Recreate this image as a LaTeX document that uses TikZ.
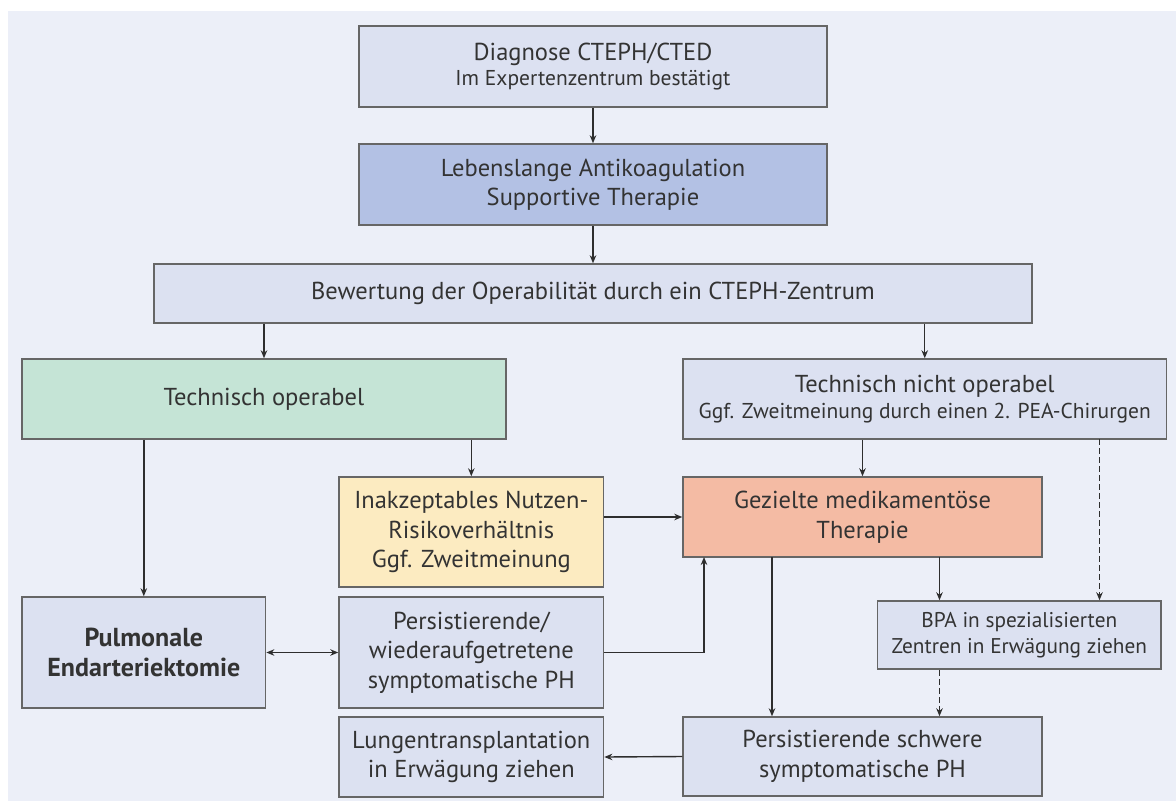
\documentclass[tikz,border=0pt]{standalone}
\usepackage{fontspec}
\setmainfont{PT Sans}
\usetikzlibrary{arrows.meta,calc}
\definecolor{bgc}{HTML}{ECEFF8}
\definecolor{boxc}{HTML}{DCE1F1}
\definecolor{lebc}{HTML}{B3C1E4}
\definecolor{opc}{HTML}{C5E4D6}
\definecolor{inakc}{HTML}{FCEBC1}
\definecolor{gezc}{HTML}{F4BBA4}
\definecolor{bord}{HTML}{666666}
\definecolor{txt}{HTML}{333333}
\definecolor{lnc}{HTML}{2E2E2E}
\newcommand{\smtxt}{\fontsize{21.5}{26}\selectfont}
\newcommand{\bpatxt}{\fontsize{21.3}{26}\selectfont}
\begin{document}
\begin{tikzpicture}[x=1pt,y=-1pt,
  box/.style={draw=bord, line width=1.5pt, fill=boxc, align=center, inner sep=0pt, text=txt,
              font=\fontsize{24.5}{29.5}\selectfont},
  arr/.style={draw=lnc, line width=1.4pt, -{Stealth[length=8pt,width=6.5pt]}},
  dasharr/.style={arr, dash pattern=on 6pt off 3pt},
  biarr/.style={draw=lnc, line width=1.4pt, {Stealth[length=8pt,width=6.5pt]}-{Stealth[length=8pt,width=6.5pt]}},
]
\useasboundingbox (0,0) rectangle (1176,801);
\fill[bgc] (7.7,11) rectangle (1176,801);

\node[box, minimum width=468pt, minimum height=81pt] (diag) at (593,66.5)
  {Diagnose CTEPH/CTED\\[-5pt]{\smtxt Im Expertenzentrum bestätigt}};
\node[box, fill=lebc, minimum width=468pt, minimum height=81pt] (leben) at (593,184.5)
  {Lebenslange Antikoagulation\\Supportive Therapie};
\node[box, minimum width=878pt, minimum height=59pt] (bew) at (593,293.5)
  {Bewertung der Operabilität durch ein CTEPH-Zentrum};
\node[box, fill=opc, minimum width=484pt, minimum height=80pt] (techop) at (264,399)
  {Technisch operabel};
\node[box, minimum width=483.5pt, minimum height=80pt] (tno) at (924.75,399)
  {Technisch nicht operabel\\[-3pt]{\smtxt Ggf. Zweitmeinung durch einen 2. PEA-Chirurgen}};
\node[box, fill=inakc, minimum width=264.6pt, minimum height=110pt] (inak) at (471.3,532)
  {Inakzeptables Nutzen-\\Risikoverhältnis\\Ggf. Zweitmeinung};
\node[box, fill=gezc, minimum width=359pt, minimum height=80pt] (gez) at (862.5,517)
  {Gezielte medikamentöse\\Therapie};
\node[box, minimum width=243.6pt, minimum height=111pt, font=\fontsize{26}{30}\selectfont\bfseries] (pea) at (143.8,652.5)
  {Pulmonale\\Endarteriektomie};
\node[box, minimum width=264.6pt, minimum height=111pt] (pers) at (471.3,652.5)
  {Persistierende/\\wiederaufgetretene\\symptomatische PH};
\node[box, minimum width=283.4pt, minimum height=68pt, font=\bpatxt] (bpa) at (1019.3,635)
  {BPA in spezialisierten\\Zentren in Erwägung ziehen};
\node[box, minimum width=264.6pt, minimum height=80pt] (lung) at (471.3,757)
  {Lungentransplantation\\in Erwägung ziehen};
\node[box, minimum width=359pt, minimum height=79pt] (pss) at (862.5,756.5)
  {Persistierende schwere\\symptomatische PH};

\coordinate (gzl) at (704,557);
\coordinate (gzm) at (772,557);
\coordinate (gzr) at (939.5,557);
\coordinate (tnd) at (1099.5,439);

\draw[arr] (diag) -- (leben);
\draw[arr] (leben) -- (bew);
\draw[arr] (techop.north |- bew.south) -- (techop.north);
\draw[arr] (tno.north |- bew.south) -- (tno.north);
\draw[arr] (pea.north |- techop.south) -- (pea.north);
\draw[arr] (inak.north |- techop.south) -- (inak.north);
\draw[arr] (gez.north |- tno.south) -- (gez.north);
\draw[dasharr] (tnd) -- (tnd |- bpa.north);
\draw[arr] (inak.east |- gez.west) -- (gez.west);
\draw[biarr] (pea.east) -- (pers.west);
\draw[arr] (pers.east) -| (gzl);
\draw[arr] (gzm) -- (gzm |- pss.north);
\draw[arr] (gzr) -- (gzr |- bpa.north);
\draw[dasharr] (gzr |- bpa.south) -- (gzr |- pss.north);
\draw[arr] (pss.west) -- (lung.east);
\end{tikzpicture}
\end{document}
